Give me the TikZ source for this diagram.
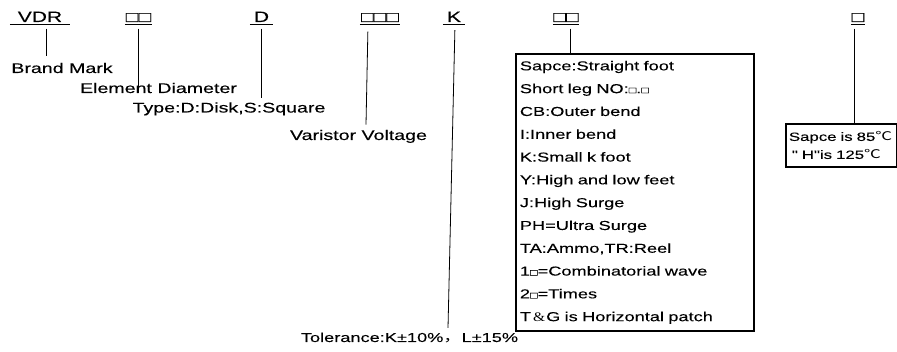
\documentclass[tikz,border=0pt]{standalone}
\usepackage{fontspec}
\setmainfont{Liberation Sans}[FakeStretch=1.4,FakeBold=0.12,Ligatures=TeXOff]
\newfontfamily\cjk{Noto Sans CJK SC}[FakeStretch=1.4]
\newfontfamily\ampfont{Liberation Serif}[FakeStretch=1.2]
\newcommand{\sq}{{\fontsize{9}{9}\selectfont □}}

\begin{document}
\begin{tikzpicture}[x=1pt,y=-1pt,
	codemark/.style={anchor=base,inner xsep=0pt,inner ysep=2.5pt,text depth=0pt,font=\fontsize{15}{15}\selectfont},
	desctext/.style={anchor=base,inner sep=0pt,font=\fontsize{14}{14}\selectfont},
	leader/.style={line width=0.8pt,shorten <=4pt},
	infobox/.style={draw,line width=1.8pt,anchor=north west,align=left}]
	\useasboundingbox (0,0) rectangle (897,352);

	% part number codes
	\node [name=vdr,codemark,minimum width=60] at (40,22) {VDR};
	\node [name=dia,codemark,minimum width=27] at (138.5,22) {□□};
	\node [name=typ,codemark,minimum width=23] at (261.5,22) {D};
	\node [name=volt,codemark,minimum width=40] at (380,22) {□□□};
	\node [name=tol,codemark,minimum width=22] at (454,22) {K};
	\node [name=foot,codemark,minimum width=26] at (566,22) {□□};
	\node [name=temp,codemark,minimum width=14] at (858,22) {□};
	\foreach \n in {vdr,dia,typ,volt,tol,foot,temp}
		\draw [line width=0.8pt] (\n.south west) -- (\n.south east);

	% meanings
	\node [name=brand,desctext] at (62,73) {Brand Mark};
	\node [name=diam,desctext] at (158.5,93) {Element Diameter};
	\node [name=typetext,desctext] at (229,112.5) {Type:D:Disk,S:Square};
	\node [name=voltage,desctext] at (358.5,140) {Varistor Voltage};
	\node [name=tolerance,desctext,font=\fontsize{13}{13}\selectfont] at (409.5,342) {Tolerance:K±10\%{\cjk ，}L±15\%};

	\node [name=footbox,infobox,inner xsep=4pt,text width=230pt,minimum height=277pt,font=\fontsize{13}{22.8}\selectfont] at (515,53)
		{Sapce:Straight foot\\Short leg NO:\sq.\sq\\CB:Outer bend\\I:Inner bend\\K:Small k foot\\Y:High and low feet\\J:High Surge\\PH=Ultra Surge\\TA:Ammo,TR:Reel\\1\sq=Combinatorial wave\\2\sq=Times\\T\hspace{2pt}{\ampfont\&}\hspace{1pt}G is Horizontal patch};
	\node [name=tempbox,infobox,inner xsep=3pt,text width=105pt,minimum height=43pt,font=\fontsize{12}{18}\selectfont] at (785,123)
		{Sapce is 85{\cjk ℃}\\\hspace{3pt}" H"is 125{\cjk ℃}};

	\draw [leader,shorten >=7pt] ([xshift=6]vdr.south) -- ([xshift=6]vdr.south |- brand.north);
	\draw [leader] (dia.south) -- (dia.south |- diam.base);
	\draw [leader,shorten >=4pt] (typ.south) -- (typ.south |- typetext.north);
	\draw [leader,shorten <=7pt] ([xshift=-12]volt.south) -- ([xshift=7.5,yshift=5]voltage.north);
	\draw [leader,shorten <=5.5pt] ([xshift=1]tol.south) -- ([xshift=38.5,yshift=4.5]tolerance.north);
	\draw [leader] ([xshift=4]foot.south) -- ([xshift=4]foot.south |- footbox.north);
	\draw [leader] ([xshift=-4]temp.south) -- ([xshift=-4]temp.south |- tempbox.north);
\end{tikzpicture}
\end{document}
